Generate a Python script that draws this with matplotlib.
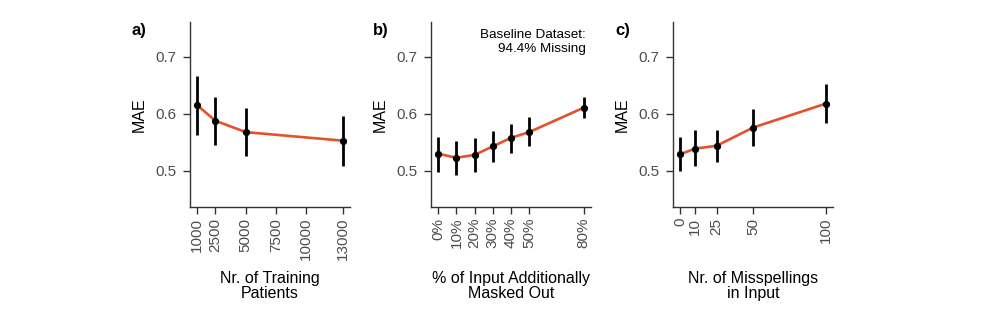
import matplotlib
matplotlib.use("Agg")
import matplotlib.pyplot as plt

plt.rcParams['font.family'] = ['Liberation Sans', 'DejaVu Sans']

# Panel a: training set size
patients = [1000, 2500, 5000, 13000]
mae_a = [0.615, 0.588, 0.568, 0.553]
lo_a = [0.563, 0.546, 0.526, 0.509]
hi_a = [0.666, 0.630, 0.610, 0.596]
ticks_a = [1000, 2500, 5000, 7500, 10000, 13000]

# Panel b: additional masking
masked = [0, 10, 20, 30, 40, 50, 80]
mae_b = [0.530, 0.523, 0.528, 0.543, 0.558, 0.568, 0.611]
lo_b = [0.498, 0.493, 0.498, 0.516, 0.532, 0.543, 0.592]
hi_b = [0.560, 0.552, 0.557, 0.570, 0.582, 0.594, 0.630]
ticks_b = [0, 10, 20, 30, 40, 50, 80]
ticklabels_b = ["0%", "10%", "20%", "30%", "40%", "50%", "80%"]

# Panel c: misspellings
misspell = [0, 10, 25, 50, 100]
mae_c = [0.529, 0.539, 0.544, 0.576, 0.618]
lo_c = [0.499, 0.508, 0.516, 0.543, 0.584]
hi_c = [0.559, 0.571, 0.572, 0.608, 0.652]
ticks_c = [0, 10, 25, 50, 100]

line_col = '#E2522C'
axis_col = '#333333'
tick_txt = '#4D4D4D'

W, H = 1000, 324
fig = plt.figure(figsize=(W / 100, H / 100), dpi=100)

lefts = [190, 431, 673]
ax_w = 160
ax_top, ax_bot = 21.7, 206.7

panels = [
    (patients, mae_a, lo_a, hi_a, ticks_a, [str(t) for t in ticks_a],
     "Nr. of Training\nPatients", "a)"),
    (masked, mae_b, lo_b, hi_b, ticks_b, ticklabels_b,
     "% of Input Additionally\nMasked Out", "b)"),
    (misspell, mae_c, lo_c, hi_c, ticks_c, [str(t) for t in ticks_c],
     "Nr. of Misspellings\nin Input", "c)"),
]

for left, (x, y, lo, hi, ticks, tlabels, xlabel, tag) in zip(lefts, panels):
    ax = fig.add_axes([left / W, 1 - ax_bot / H, ax_w / W, (ax_bot - ax_top) / H])
    ax.plot(x, y, color=line_col, lw=1.9, solid_capstyle='round',
            solid_joinstyle='round', zorder=2)
    yerr = [[m - l for m, l in zip(y, lo)], [h - m for m, h in zip(y, hi)]]
    ax.errorbar(x, y, yerr=yerr, fmt='o', color='black', ms=4.2,
                elinewidth=2.0, capsize=0, zorder=3)

    span = max(x) - min(x)
    ax.set_xlim(min(x) - 0.05 * span, max(x) + 0.05 * span)
    ax.set_ylim(0.437, 0.762)
    ax.set_yticks([0.5, 0.6, 0.7])
    ax.set_yticklabels(["0.5", "0.6", "0.7"])
    ax.set_xticks(ticks)
    ax.set_xticklabels(tlabels, rotation=90)

    for s in ['top', 'right']:
        ax.spines[s].set_visible(False)
    for s in ['left', 'bottom']:
        ax.spines[s].set_color(axis_col)
        ax.spines[s].set_linewidth(1.0)
    ax.tick_params(axis='both', direction='out', length=5, width=1.0,
                   color=axis_col, labelcolor=tick_txt, labelsize=11)
    ax.tick_params(axis='y', pad=5)
    ax.tick_params(axis='x', pad=3)

    ax.set_ylabel("MAE", fontsize=11.5, color='black')
    ax.yaxis.set_label_coords(-0.27, 0.5)
    ax.set_xlabel(xlabel, fontsize=11.5, color='black', linespacing=1.0)
    ax.xaxis.set_label_coords(0.5, -0.35)

    fig.text((left - 58) / W, 1 - 23 / H, tag, fontsize=12,
             fontweight='bold', ha='left', va='top')

    if tag == "b)":
        ax.text(0.97, 0.96, "Baseline Dataset:\n94.4% Missing",
                transform=ax.transAxes, ha='right', va='top', fontsize=9.7,
                linespacing=1.25)

fig.savefig("out.png", dpi=100)
